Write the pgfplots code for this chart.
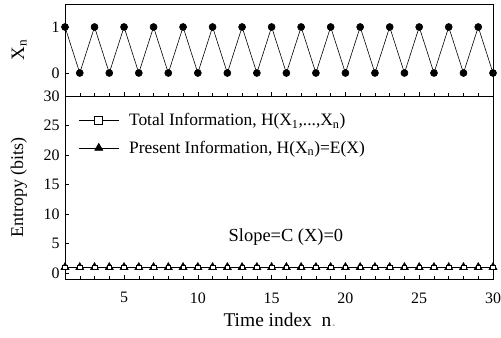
\documentclass[border=0pt]{standalone}
\usepackage{fontspec}
\setmainfont{Liberation Serif}
\usepackage{pgfplots}
\pgfplotsset{compat=1.18}
\begin{document}
\begin{tikzpicture}
\pgfplotsset{
  common/.style={
    scale only axis, width=428bp, xmin=1, xmax=30,
    /pgf/number format/assume math mode=true,
    tick align=inside, xtick pos=lower, ytick pos=left,
    major tick length=4bp, minor tick length=3bp,
    xtick={5,10,15,20,25,30}, minor xtick={1,...,30},
    tick style={black, line width=0.5pt},
    axis line style={line width=0.6pt},
    tick label style={font=\fontsize{16}{18}\selectfont},
    yticklabel style={xshift=-2bp},
    xticklabel style={yshift=-10bp},
  }
}
\begin{axis}[common, name=bot, at={(0,0)}, anchor=south west,
  height=183bp, ymin=-1, ymax=30, ytick={0,5,10,15,20,25,30},
  every axis y label/.style={at={(axis description cs:-0.108,0.5)}, rotate=90, anchor=center},
  every axis x label/.style={at={(axis description cs:0.502,-0.224)}, anchor=center},
  ylabel={\fontsize{18}{20}\selectfont Entropy (bits)},
  xlabel={\fontsize{19.5}{21}\selectfont Time index\ \ n{\color{gray!50}.}},
  legend style={at={(axis description cs:0.031,0.912)}, anchor=north west, draw=none, fill=none,
    font=\fontsize{17.5}{19}\selectfont, row sep=12bp, column sep=9bp, inner sep=0pt,
    nodes={inner sep=1bp}},
  legend cell align=left,
  legend image code/.code={\draw[mark repeat=2,mark phase=2,#1] plot coordinates {(0bp,0bp) (20bp,0bp) (40bp,0bp)};},
]
\addplot[black, line width=0.6pt, mark=triangle*, mark size=4.6bp, mark options={fill=black, solid}, forget plot] coordinates {
(1,1)(2,1)(3,1)(4,1)(5,1)(6,1)(7,1)(8,1)(9,1)(10,1)(11,1)(12,1)(13,1)(14,1)(15,1)
(16,1)(17,1)(18,1)(19,1)(20,1)(21,1)(22,1)(23,1)(24,1)(25,1)(26,1)(27,1)(28,1)(29,1)(30,1)};
\addplot[black, line width=0.6pt, mark=square*, mark size=2.3bp, mark options={fill=white, solid, line width=0.5pt}, forget plot] coordinates {
(1,1)(2,1)(3,1)(4,1)(5,1)(6,1)(7,1)(8,1)(9,1)(10,1)(11,1)(12,1)(13,1)(14,1)(15,1)
(16,1)(17,1)(18,1)(19,1)(20,1)(21,1)(22,1)(23,1)(24,1)(25,1)(26,1)(27,1)(28,1)(29,1)(30,1)};
\addlegendimage{black, line width=0.6pt, mark=square*, mark size=4bp, mark options={fill=white, solid}}
\addlegendentry{Total Information, H(X\textsubscript{1},...,X\textsubscript{n})}
\addlegendimage{black, line width=0.6pt, mark=triangle*, mark size=4.6bp, mark options={fill=black, solid}}
\addlegendentry{Present Information, H(X\textsubscript{n})=E(X)}
\node[font=\fontsize{18.5}{20}\selectfont] at (axis cs:15.97,6.1) {Slope=C (X)=0};
\end{axis}
\begin{axis}[common, name=top, at={(bot.north west)}, anchor=south west,
  height=92bp, ymin=-0.5, ymax=1.5, ytick={0,1}, xticklabels={},
  every axis y label/.style={at={(axis description cs:-0.107,0.5)}, rotate=90, anchor=center},
  ylabel={\fontsize{19}{21}\selectfont X\textsubscript{n}},
]
\addplot[black, line width=0.6pt, mark=*, mark size=3.5bp] coordinates {
(1,1)(2,0)(3,1)(4,0)(5,1)(6,0)(7,1)(8,0)(9,1)(10,0)(11,1)(12,0)(13,1)(14,0)(15,1)
(16,0)(17,1)(18,0)(19,1)(20,0)(21,1)(22,0)(23,1)(24,0)(25,1)(26,0)(27,1)(28,0)(29,1)(30,0)};
\end{axis}
\pgfresetboundingbox
\path ([shift={(-65bp,-59bp)}]bot.south west) rectangle ([shift={(436bp,279bp)}]bot.south west);
\end{tikzpicture}
\end{document}
